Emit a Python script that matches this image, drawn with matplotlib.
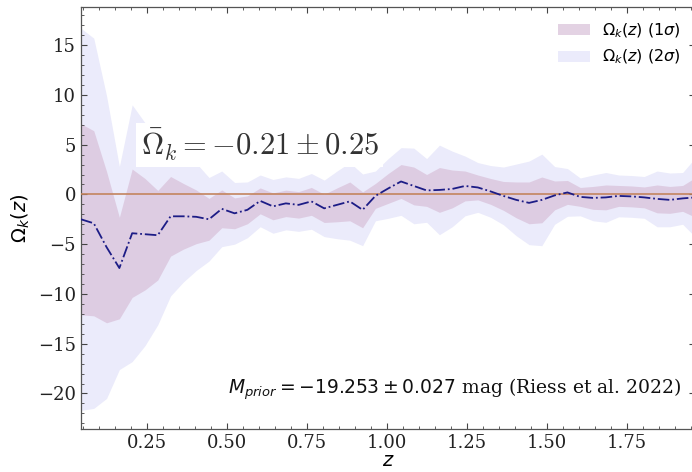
import numpy as np
import matplotlib
matplotlib.use("Agg")
import matplotlib.pyplot as plt
from matplotlib.ticker import MultipleLocator

# Redshift grid of the reconstruction
z = [0.044, 0.084, 0.124, 0.164, 0.204, 0.244, 0.284, 0.324, 0.364, 0.404,
     0.444, 0.484, 0.524, 0.564, 0.604, 0.644, 0.684, 0.724, 0.764, 0.804,
     0.844, 0.884, 0.924, 0.964, 1.004, 1.044, 1.084, 1.124, 1.164, 1.204,
     1.244, 1.284, 1.324, 1.364, 1.404, 1.444, 1.484, 1.524, 1.564, 1.604,
     1.644, 1.684, 1.724, 1.764, 1.804, 1.844, 1.884, 1.924, 1.964]

# Mean reconstructed curvature Omega_k(z)
omega_k_mean = [-2.5, -2.9, -5.3, -7.4, -3.9, -4.0, -4.1, -2.2, -2.2, -2.25,
                -2.5, -1.45, -1.9, -1.55, -0.65, -1.2, -0.9, -1.05, -0.7, -1.4,
                -1.05, -0.7, -1.55, -0.15, 0.6, 1.3, 0.85, 0.4, 0.45, 0.55,
                0.85, 0.7, 0.3, -0.15, -0.55, -0.85, -0.55, -0.1, 0.2, -0.25,
                -0.35, -0.3, -0.15, -0.2, -0.3, -0.45, -0.55, -0.4, -0.3]

# 1-sigma uncertainty of the reconstruction
omega_k_sigma = [9.6, 9.3, 7.6, 5.1, 6.45, 5.6, 4.5, 4.0, 3.3, 2.7,
                 2.1, 1.9, 1.55, 1.4, 1.3, 1.35, 1.33, 1.33, 1.4, 1.42,
                 1.7, 1.95, 1.8, 1.25, 1.5, 1.7, 1.9, 1.6, 2.25, 1.9,
                 1.5, 1.25, 1.3, 1.45, 1.8, 2.1, 2.3, 1.45, 1.2, 0.95,
                 1.15, 1.25, 1.05, 1.05, 1.05, 1.4, 1.35, 1.3, 2.0]

z = np.array(z)
mean = np.array(omega_k_mean)
sig = np.array(omega_k_sigma)

fig = plt.figure(figsize=(6.92, 4.72), dpi=100)
ax = fig.add_axes([0.117, 0.0905, 0.888, 0.894])

ax.fill_between(z, mean - 2 * sig, mean + 2 * sig, color="lavender",
                alpha=0.8, linewidth=0, label=r"$\Omega_k(z)$ $(2\sigma)$")
ax.fill_between(z, mean - sig, mean + sig, color="thistle",
                alpha=0.7, linewidth=0, label=r"$\Omega_k(z)$ $(1\sigma)$")
ax.axhline(0.0, color="#c3845e", linewidth=1.2, zorder=3)
ax.plot(z, mean, color="#1c1c86", linestyle="-.", linewidth=1.3, zorder=4)

ax.set_xlim(z[0], z[-1])
ax.set_ylim(-23.6, 18.8)

ax.xaxis.set_major_locator(MultipleLocator(0.25))
ax.xaxis.set_minor_locator(MultipleLocator(0.05))
ax.yaxis.set_major_locator(MultipleLocator(5))
ax.yaxis.set_minor_locator(MultipleLocator(1))
ax.tick_params(which="both", direction="in", top=True, right=True,
               colors="#444444", labelcolor="#222222")
ax.tick_params(which="major", length=4, width=0.8, labelsize=13)
ax.tick_params(which="minor", length=2, width=0.6)
for lab in ax.get_xticklabels() + ax.get_yticklabels():
    lab.set_family("DejaVu Serif")
for sp in ax.spines.values():
    sp.set_color("#555555")
    sp.set_linewidth(0.9)

ax.set_xlabel(r"$z$", fontsize=14, labelpad=-1)
ax.set_ylabel(r"$\Omega_k(z)$", fontsize=14, labelpad=4)

handles, labels = ax.get_legend_handles_labels()
ax.legend(handles[::-1], labels[::-1], loc="upper right", frameon=False,
          fontsize=11.5)

ax.text(0.291, 0.674, r"$\bar{\Omega}_k = -0.21 \pm 0.25$",
        transform=ax.transAxes, ha="center", va="center", fontsize=22,
        math_fontfamily="cm", color="#333333",
        bbox=dict(facecolor="white", edgecolor="none", pad=3))

ax.text(0.978, 0.085,
        r"$M_{prior} = -19.253 \pm 0.027$ mag (Riess et al. 2022)",
        transform=ax.transAxes, ha="right", va="baseline", fontsize=13.5,
        family="DejaVu Serif", math_fontfamily="dejavusans", color="#111111")

fig.savefig("out.png", dpi=100)
